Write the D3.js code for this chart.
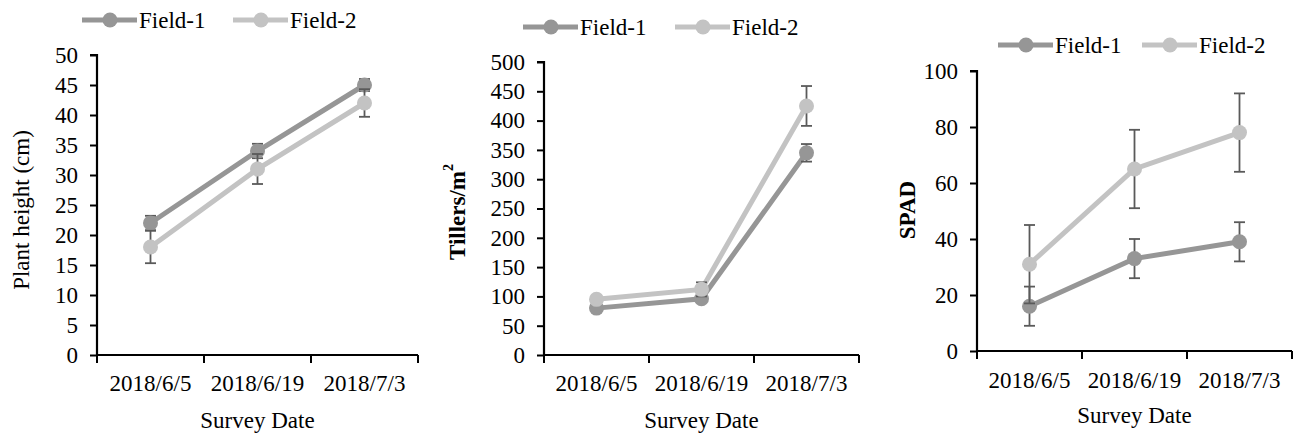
<!DOCTYPE html>
<html>
<head>
<meta charset="utf-8">
<script src="https://cdn.jsdelivr.net/npm/d3@7"></script>
<style>
  body { margin: 0; background: #fff; }
  svg text { font-family: "Liberation Serif", "Times New Roman", Times, "DejaVu Serif", serif !important; }
</style>
</head>
<body>
<svg id="chart" width="1296" height="435"></svg>
<script>
const dates = ["2018/6/5", "2018/6/19", "2018/7/3"];
const seriesNames = ["Field-1", "Field-2"];

const heightField1 = [22, 34, 45];
const heightField2 = [18, 31, 42];
const heightErr1 = [1.2, 1.2, 1.0];
const heightErr2 = [2.7, 2.5, 2.3];

const tillersField1 = [80, 96, 345];
const tillersField2 = [95, 112, 425];
const tillersErr1 = [6, 6, 15];
const tillersErr2 = [6, 12, 34];

const spadField1 = [16, 33, 39];
const spadField2 = [31, 65, 78];
const spadErr1 = [7, 7, 7];
const spadErr2 = [14, 14, 14];

const colors = ["#969696", "#c3c3c3"];
const errColor = "#5a5a5a";

const panels = [
  { left: 97, right: 418, bottom: 355, top: 55, max: 50, step: 5,
    values: [heightField1, heightField2], errs: [heightErr1, heightErr2],
    ylabel: "Plant height (cm)", bold: false, ylabelX: 21, ylabelY: 210,
    legendY: 20, legendX: [82, 233], xLabelY: 391, titleY: 428 },
  { left: 544, right: 859, bottom: 355, top: 62, max: 500, step: 50,
    values: [tillersField1, tillersField2], errs: [tillersErr1, tillersErr2],
    ylabel: "Tillers/m", sup: "2", bold: true, ylabelX: 457, ylabelY: 212,
    legendY: 27, legendX: [523, 675], xLabelY: 391, titleY: 428 },
  { left: 977, right: 1292, bottom: 351, top: 71, max: 100, step: 20,
    values: [spadField1, spadField2], errs: [spadErr1, spadErr2],
    ylabel: "SPAD", bold: true, ylabelX: 907, ylabelY: 210,
    legendY: 45, legendX: [998, 1142], xLabelY: 388, titleY: 423 }
];

const svg = d3.select("#chart");
const fontSize = 23;

panels.forEach(p => {
  const g = svg.append("g");

  const x = d3.scaleBand().domain(dates).range([p.left, p.right]);
  const y = d3.scaleLinear().domain([0, p.max]).range([p.bottom, p.top]);

  // y axis
  const yAxis = d3.axisLeft(y)
    .tickValues(d3.range(0, p.max + p.step / 2, p.step))
    .tickSize(7).tickPadding(12);
  const ya = g.append("g").attr("transform", `translate(${p.left},0)`).call(yAxis);
  ya.select(".domain").attr("stroke", "#000").attr("stroke-width", 2.2)
    .attr("d", `M${-7},${p.top}H0V${p.bottom}`);
  ya.selectAll(".tick line").attr("stroke", "#000").attr("stroke-width", 2);
  ya.selectAll(".tick text").attr("font-size", fontSize).attr("fill", "#000");

  // x axis with ticks at category boundaries
  const xa = g.append("g").attr("transform", `translate(0,${p.bottom})`);
  xa.append("line").attr("x1", p.left).attr("x2", p.right)
    .attr("stroke", "#000").attr("stroke-width", 2.2);
  const bounds = dates.map(d => x(d)).concat([x(dates[dates.length - 1]) + x.bandwidth()]);
  xa.selectAll(".bt").data(bounds).join("line")
    .attr("x1", d => d).attr("x2", d => d).attr("y1", 0).attr("y2", 8)
    .attr("stroke", "#000").attr("stroke-width", 2);
  g.selectAll(".xl").data(dates).join("text")
    .attr("x", d => x(d) + x.bandwidth() / 2).attr("y", p.xLabelY)
    .attr("text-anchor", "middle").attr("font-size", fontSize).text(d => d);

  g.append("text").attr("x", (p.left + p.right) / 2).attr("y", p.titleY)
    .attr("text-anchor", "middle").attr("font-size", fontSize).text("Survey Date");

  const yl = g.append("text")
    .attr("transform", `translate(${p.ylabelX},${p.ylabelY}) rotate(-90)`)
    .attr("text-anchor", "middle").attr("dominant-baseline", "central")
    .attr("font-size", fontSize).attr("font-weight", p.bold ? "bold" : "normal")
    .text(p.ylabel);
  if (p.sup) {
    yl.append("tspan").attr("font-size", 14).attr("dy", -9).text(p.sup);
  }

  const cx = d => x(d) + x.bandwidth() / 2;

  p.values.forEach((vals, si) => {
    const pts = dates.map((d, i) => ({ d, v: vals[i], e: p.errs[si][i] }));
    const line = d3.line().x(q => cx(q.d)).y(q => y(q.v));
    g.append("path").datum(pts).attr("d", line)
      .attr("fill", "none").attr("stroke", colors[si]).attr("stroke-width", 5);

    const eb = g.append("g").attr("stroke", errColor).attr("stroke-width", 1.8);
    pts.forEach(q => {
      const xx = cx(q.d);
      eb.append("line").attr("x1", xx).attr("x2", xx)
        .attr("y1", y(q.v - q.e)).attr("y2", y(q.v + q.e));
      [q.v - q.e, q.v + q.e].forEach(t => {
        eb.append("line").attr("x1", xx - 5.5).attr("x2", xx + 5.5)
          .attr("y1", y(t)).attr("y2", y(t));
      });
    });

    g.selectAll(null).data(pts).join("circle")
      .attr("cx", q => cx(q.d)).attr("cy", q => y(q.v)).attr("r", 7.5)
      .attr("fill", colors[si]);
  });

  // legend
  seriesNames.forEach((name, si) => {
    const lx = p.legendX[si];
    const lg = g.append("g");
    lg.append("line").attr("x1", lx).attr("x2", lx + 55)
      .attr("y1", p.legendY).attr("y2", p.legendY)
      .attr("stroke", colors[si]).attr("stroke-width", 5);
    lg.append("circle").attr("cx", lx + 28).attr("cy", p.legendY).attr("r", 7.5)
      .attr("fill", colors[si]);
    lg.append("text").attr("x", lx + 57).attr("y", p.legendY)
      .attr("dominant-baseline", "central").attr("font-size", fontSize).text(name);
  });
});
</script>
</body>
</html>
